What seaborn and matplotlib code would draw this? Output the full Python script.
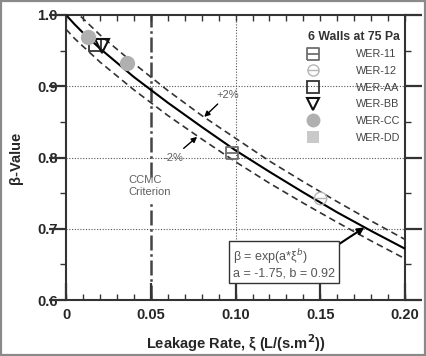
import numpy as np
import pandas as pd
import matplotlib
matplotlib.use("Agg")
import matplotlib.pyplot as plt
import seaborn as sns
from matplotlib.lines import Line2D
from matplotlib.path import Path
from matplotlib.patches import Rectangle
from matplotlib.ticker import FixedLocator

# fit curve and +/-2% bands
xi_fit = [0, 0.005, 0.01, 0.02, 0.04, 0.06, 0.08, 0.10, 0.12, 0.14, 0.16, 0.18, 0.20]
beta_fit = [1.0, 0.987, 0.975, 0.953, 0.913, 0.877, 0.843, 0.810, 0.780, 0.751, 0.723, 0.697, 0.672]
beta_up = [1.02, 1.006, 0.995, 0.972, 0.932, 0.894, 0.859, 0.827, 0.795, 0.766, 0.738, 0.711, 0.685]
beta_lo = [0.98, 0.967, 0.956, 0.934, 0.895, 0.859, 0.826, 0.794, 0.764, 0.736, 0.709, 0.683, 0.658]

# measured walls
walls = ["WER-11", "WER-12", "WER-AA", "WER-BB", "WER-CC", "WER-DD"]
wall_xi = [[0.098], [0.150], [0.017], [0.021], [0.013, 0.036], []]
wall_beta = [[0.806], [0.743], [0.958], [0.956], [0.969, 0.933], []]

ccmc_xi = 0.05
grid_x = [0.10]
grid_y = [0.7, 0.8, 0.9]
x_major = [0, 0.05, 0.10, 0.15, 0.20]
x_labels = ["0", "0.05", "0.10", "0.15", "0.20"]
y_major = [0.6, 0.7, 0.8, 0.9, 1.0]
y_labels = ["0.6", "0.7", "0.8", "0.9", "1.0"]
x_minor = np.round(np.arange(0, 0.2001, 0.01), 3)
y_minor = [0.65, 0.75, 0.85, 0.95]

# marker shapes
sq_line = Path.make_compound_path(
    Path([[-1, -1], [1, -1], [1, 1], [-1, 1], [-1, -1]]),
    Path([[-1, 0], [1, 0]]))
circ_line = Path.make_compound_path(Path.unit_circle(), Path([[-1, 0], [1, 0]]))
styles = {
    "WER-11": dict(marker=sq_line, mec="#6e6e6e", mfc="none", ms=9, mew=1.3),
    "WER-12": dict(marker=circ_line, mec="#b5b5b5", mfc="none", ms=9, mew=1.0),
    "WER-AA": dict(marker="s", mec="#333333", mfc="none", ms=9, mew=1.3),
    "WER-BB": dict(marker="v", mec="#111111", mfc="none", ms=10, mew=1.5),
    "WER-CC": dict(marker="o", mec="#b0b0b0", mfc="#b0b0b0", ms=11, mew=0),
    "WER-DD": dict(marker="s", mec="#c9c9c9", mfc="#c9c9c9", ms=9, mew=0),
}

sns.set_style("ticks")
plt.rcParams["font.family"] = ["Liberation Sans", "DejaVu Sans"]

fig = plt.figure(figsize=(4.26, 3.56), dpi=100)
ax = fig.add_axes([0.155, 0.157, 0.796, 0.801])
fig.add_artist(Rectangle((0.003, 0.003), 0.994, 0.994, transform=fig.transFigure,
                         fill=False, ec="#8a8a8a", lw=1.6, zorder=-1))

# grid
for gy in grid_y:
    ax.axhline(gy, color="#555555", ls=(0, (1, 1.5)), lw=0.8, zorder=1)
for gx in grid_x:
    ax.axvline(gx, color="#555555", ls=(0, (1, 1.5)), lw=0.8, zorder=1)

# CCMC criterion line, broken where the label sits
ax.axvline(ccmc_xi, ymin=0.0, ymax=0.35, color="#444444", lw=1.8,
           ls=(0, (6, 1.5, 1, 1.5)), zorder=2)
ax.axvline(ccmc_xi, ymin=0.43, ymax=1.0, color="#444444", lw=1.8,
           ls=(0, (6, 1.5, 1, 1.5)), zorder=2)

df = pd.DataFrame({"xi": xi_fit, "fit": beta_fit, "up": beta_up, "lo": beta_lo})
sns.lineplot(data=df, x="xi", y="up", ax=ax, color="#333333", lw=1.2,
             linestyle=(0, (4, 2.5)), zorder=3)
sns.lineplot(data=df, x="xi", y="lo", ax=ax, color="#333333", lw=1.2,
             linestyle=(0, (4, 2.5)), zorder=3)
sns.lineplot(data=df, x="xi", y="fit", ax=ax, color="black", lw=1.5, zorder=4)

handles = []
for name, xs, ys in zip(walls, wall_xi, wall_beta):
    st = styles[name]
    if xs:
        ax.plot(xs, ys, ls="none", marker=st["marker"], mec=st["mec"], mfc=st["mfc"],
                ms=st["ms"], mew=st["mew"], zorder=5)
    handles.append(Line2D([], [], ls="none", marker=st["marker"], mec=st["mec"],
                          mfc=st["mfc"], ms=st["ms"] - 1, mew=st["mew"]))

leg = ax.legend(handles, walls, title="6 Walls at 75 Pa", loc="upper right",
                bbox_to_anchor=(1.005, 0.968), frameon=False, handletextpad=3.0,
                labelspacing=0.62, fontsize=7.8, borderaxespad=0.2,
                title_fontproperties={"size": 8.8, "weight": "bold"})
for t in leg.get_texts():
    t.set_color("#444444")
leg.get_title().set_color("#333333")
leg._legend_box.align = "right"

# annotations
txt_col = "#606060"
ax.annotate("+2%", xy=(0.0815, 0.857), xytext=(0.0885, 0.888), fontsize=8,
            color=txt_col, va="center", ha="left",
            arrowprops=dict(arrowstyle="-|>", color="black", lw=1.0,
                            mutation_scale=8, shrinkA=1, shrinkB=0))
ax.annotate("-2%", xy=(0.0773, 0.829), xytext=(0.0572, 0.800), fontsize=8,
            color=txt_col, va="center", ha="left",
            arrowprops=dict(arrowstyle="-|>", color="black", lw=1.0,
                            mutation_scale=8, shrinkA=1, shrinkB=0))
ax.text(0.0365, 0.760, "CCMC\nCriterion", fontsize=8, color=txt_col,
        ha="left", va="center", linespacing=1.25)
ax.annotate("β = exp(a*ξ$^{b}$)\na = -1.75, b = 0.92", xy=(0.176, 0.702),
            xytext=(0.0985, 0.629), fontsize=9, color="#555555", ha="left", va="bottom",
            linespacing=1.2,
            bbox=dict(boxstyle="square,pad=0.3", fc="white", ec="#333333", lw=1.0),
            arrowprops=dict(arrowstyle="-|>", color="black", lw=1.5,
                            mutation_scale=10, relpos=(1, 1), shrinkA=0, shrinkB=0))

ax.set_xlim(0, 0.2)
ax.set_ylim(0.6, 1.0)
ax.set_xlabel("Leakage Rate, ξ (L/(s.m$^\\mathbf{2}$))", fontsize=10.5, fontweight="bold",
              labelpad=7)
ax.set_ylabel("β-Value", fontsize=10.5, fontweight="bold", labelpad=10)
for sp in ax.spines.values():
    sp.set_color("#333333")
    sp.set_linewidth(1.5)

# tick labels from the axis, tick marks drawn as inward markers on the frame
ax.xaxis.set_major_locator(FixedLocator(x_major))
ax.xaxis.set_major_formatter(plt.FixedFormatter(x_labels))
ax.yaxis.set_major_locator(FixedLocator(y_major))
ax.yaxis.set_major_formatter(plt.FixedFormatter(y_labels))
ax.tick_params(which="both", length=0, labelsize=10.5, pad=6)
for lab in ax.get_xticklabels() + ax.get_yticklabels():
    lab.set_fontweight("bold")

tick_col = "#333333"
xt = ax.get_xaxis_transform()
yt = ax.get_yaxis_transform()
kw = dict(ls="none", color=tick_col, clip_on=False, zorder=6)
ax.plot(x_minor, [0] * len(x_minor), transform=xt, marker=2, ms=4.5, mew=1.0, **kw)
ax.plot(x_minor, [1] * len(x_minor), transform=xt, marker=3, ms=4.5, mew=1.0, **kw)
ax.plot(x_major, [0] * len(x_major), transform=xt, marker=2, ms=12, mew=1.6, **kw)
ax.plot([0] * len(y_minor), y_minor, transform=yt, marker=0, ms=4.5, mew=1.0, **kw)
ax.plot([1] * len(y_minor), y_minor, transform=yt, marker=1, ms=4.5, mew=1.0, **kw)
ax.plot([0] * len(y_major), y_major, transform=yt, marker=0, ms=12, mew=1.6, **kw)
ax.plot([1] * len(y_major), y_major, transform=yt, marker=1, ms=12, mew=1.6, **kw)

fig.savefig("out.png", dpi=100)
